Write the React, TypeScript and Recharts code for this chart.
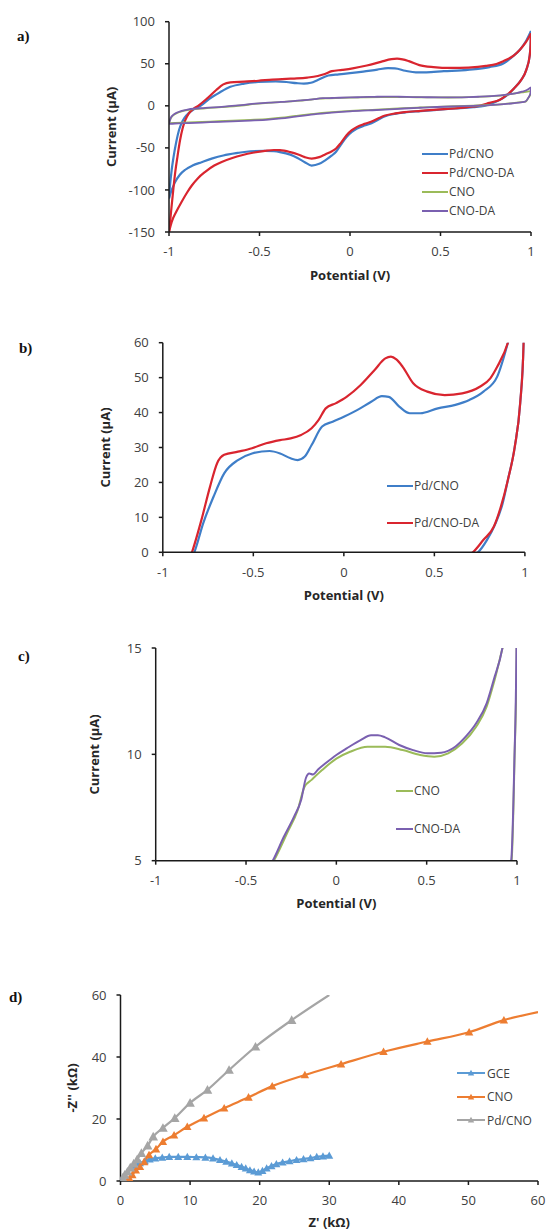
import React from 'react';
import { LineChart, ComposedChart, Line, Scatter, XAxis, YAxis, Legend } from 'recharts';

const FONT = '"Open Sans", "Liberation Sans", sans-serif';
const SERIF = '"Liberation Serif", "Times New Roman", serif';

type Pt = [number, number];

// ---------- CV data (potential V, current µA), each branch listed with increasing potential ----------
const pdCnoAnodic: Pt[] = [[-1,-110],[-0.995,-96],[-0.985,-76],[-0.975,-61],[-0.96,-43],[-0.945,-29],[-0.925,-18],[-0.9,-10.5],[-0.875,-6],[-0.85,-2.5],[-0.826,0],[-0.777,8.3],[-0.72,15.9],[-0.661,22.6],[-0.585,26.4],[-0.507,28.3],[-0.41,29],[-0.352,28.3],[-0.294,26.9],[-0.255,26.4],[-0.216,27.4],[-0.178,30.7],[-0.12,36],[-0.062,37.4],[0,38.8],[0.073,40.7],[0.151,43.1],[0.21,44.7],[0.248,44.5],[0.306,41.7],[0.364,39.8],[0.422,39.8],[0.519,41.2],[0.616,42.2],[0.693,43.6],[0.771,46],[0.847,50.3],[0.906,60],[0.94,67],[0.97,76],[1,89]];
const pdCnoCathodic: Pt[] = [[-1,-110],[-0.99,-103],[-0.967,-91],[-0.94,-82],[-0.91,-76],[-0.87,-71],[-0.82,-67],[-0.76,-62.5],[-0.7,-59],[-0.62,-56],[-0.55,-54],[-0.47,-53.5],[-0.42,-54],[-0.387,-55],[-0.33,-58],[-0.29,-62],[-0.25,-67],[-0.212,-71],[-0.17,-69],[-0.135,-64.5],[-0.1,-59],[-0.077,-54.5],[-0.05,-46],[-0.019,-37],[0.01,-31],[0.039,-27],[0.08,-23.5],[0.116,-21],[0.16,-16],[0.194,-12.5],[0.25,-9.5],[0.3,-8],[0.39,-6.3],[0.48,-4.8],[0.58,-3.2],[0.68,-1.5],[0.741,0],[0.79,3.5],[0.838,8.3],[0.877,14],[0.906,20.7],[0.944,30.2],[0.974,42.7],[0.993,60],[0.998,75],[1,89]];
const pdCnoDaAnodic: Pt[] = [[-1,-150],[-0.994,-138],[-0.985,-118],[-0.975,-97],[-0.965,-78],[-0.953,-60],[-0.939,-41],[-0.925,-27],[-0.91,-17],[-0.89,-9],[-0.865,-3.5],[-0.839,0],[-0.787,9.2],[-0.739,18.8],[-0.7,25.5],[-0.661,27.9],[-0.585,28.8],[-0.507,29.8],[-0.429,31.2],[-0.352,32.1],[-0.294,32.6],[-0.236,33.6],[-0.178,35.5],[-0.139,37.9],[-0.1,41.2],[-0.043,42.7],[0.015,44.5],[0.093,47.9],[0.17,52.2],[0.229,55.5],[0.26,56],[0.29,55.2],[0.325,53.1],[0.383,48.4],[0.461,46],[0.557,45],[0.654,45.5],[0.751,47.4],[0.809,49.8],[0.847,53.1],[0.906,60],[0.94,67],[0.97,75],[1,86]];
const pdCnoDaCathodic: Pt[] = [[-1,-150],[-0.985,-138],[-0.96,-126],[-0.93,-114],[-0.9,-103],[-0.875,-95],[-0.84,-86],[-0.8,-78.5],[-0.75,-71],[-0.709,-66.7],[-0.65,-62],[-0.598,-58.7],[-0.53,-55.5],[-0.47,-53.5],[-0.42,-52.5],[-0.387,-52.7],[-0.33,-55],[-0.29,-57.5],[-0.25,-61],[-0.212,-62.7],[-0.17,-61],[-0.135,-57.5],[-0.1,-54],[-0.077,-50.7],[-0.05,-44],[-0.019,-35],[0.01,-29],[0.039,-25],[0.08,-21.5],[0.116,-19],[0.16,-14.5],[0.194,-11.5],[0.25,-9],[0.3,-7.5],[0.39,-6],[0.48,-4.5],[0.58,-3],[0.65,-1.5],[0.712,0],[0.77,3.5],[0.828,7.3],[0.867,13],[0.906,20.7],[0.944,30.2],[0.974,42.7],[0.993,60],[0.998,73],[1,86]];
const cnoAnodic: Pt[] = [[-1,-20.5],[-0.99,-15],[-0.975,-11],[-0.955,-8.5],[-0.93,-6.5],[-0.89,-4.8],[-0.8,-3],[-0.71,-1.6],[-0.6,0.4],[-0.525,2.2],[-0.45,3.6],[-0.39,4.4],[-0.346,5],[-0.273,6.29],[-0.214,7.38],[-0.176,8.48],[-0.137,8.8],[-0.079,9.26],[0,9.8],[0.076,10.12],[0.173,10.36],[0.27,10.36],[0.367,10.2],[0.464,9.97],[0.542,9.89],[0.619,10.05],[0.697,10.52],[0.774,11.3],[0.832,12.24],[0.871,13.34],[0.92,15],[0.95,16],[0.98,16.8],[1,17.5]];
const cnoCathodic: Pt[] = [[-1,-20.5],[-0.967,-20.2],[-0.89,-19.7],[-0.773,-18.7],[-0.65,-17.7],[-0.55,-16.7],[-0.45,-15.5],[-0.38,-14.2],[-0.3,-12],[-0.2,-9.5],[-0.1,-7.6],[0,-6.1],[0.1,-5],[0.194,-4],[0.3,-2.8],[0.387,-2],[0.48,-1.2],[0.58,-0.5],[0.68,0.2],[0.774,1],[0.85,2.1],[0.909,3.4],[0.945,4.3],[0.97,5],[0.987,10],[0.998,14.5],[1,17.5]];
const cnoDaAnodic: Pt[] = [[-1,-21.5],[-0.99,-14],[-0.975,-10.5],[-0.955,-8],[-0.93,-6],[-0.893,-4.3],[-0.8,-2.5],[-0.709,-1.2],[-0.6,0.8],[-0.525,2.5],[-0.45,3.8],[-0.39,4.5],[-0.35,5.03],[-0.292,6.1],[-0.234,7.07],[-0.195,7.85],[-0.168,8.9],[-0.15,9.1],[-0.13,9.05],[-0.1,9.3],[-0.06,9.58],[0,9.97],[0.057,10.28],[0.134,10.67],[0.192,10.9],[0.23,10.9],[0.27,10.8],[0.348,10.44],[0.425,10.2],[0.503,10.05],[0.58,10.08],[0.658,10.36],[0.716,10.83],[0.774,11.46],[0.832,12.4],[0.871,13.5],[0.92,15.03],[0.95,16.8],[0.98,19],[1,22]];
const cnoDaCathodic: Pt[] = [[-1,-21.5],[-0.967,-21],[-0.89,-20.5],[-0.773,-19.5],[-0.65,-18.5],[-0.55,-17.5],[-0.45,-16.3],[-0.38,-15],[-0.3,-12.8],[-0.2,-10.2],[-0.1,-8.2],[0,-6.6],[0.1,-5.5],[0.194,-4.5],[0.3,-3.2],[0.387,-2.3],[0.48,-1.4],[0.58,-0.7],[0.68,0],[0.774,0.8],[0.85,2],[0.909,3.3],[0.945,4.2],[0.968,5],[0.985,9.5],[0.997,15],[1,22]];

// ---------- EIS data (Z' kΩ, -Z'' kΩ) ----------
const gcePoints: Pt[] = [[0,0],[0.3,0.8],[0.6,1.8],[1,3],[1.5,4.2],[2,5],[2.8,5.8],[3.5,6.4],[4.2,7],[5,7.3],[6,7.6],[7,7.8],[8.3,7.8],[9.6,7.8],[10.9,7.7],[12.2,7.6],[13.3,7.3],[14.3,6.8],[15.2,6.3],[16,5.7],[16.7,5.2],[17.4,4.6],[18,4.1],[18.6,3.5],[19.2,3.1],[19.8,2.8],[20.4,3.3],[21,4.1],[21.7,4.8],[22.4,5.5],[23.3,6],[24.3,6.4],[25.3,6.8],[26.3,7.1],[27.3,7.4],[28.2,7.8],[29.1,8],[30,8.2]];
const cnoPoints: Pt[] = [[1,0],[1.3,0.8],[1.7,2],[2.2,3.5],[2.8,4.6],[3.4,6.2],[4.1,8.4],[5.1,10.3],[6.1,12.7],[7.7,14.8],[9.6,17.5],[12,20.3],[14.9,23.5],[18.4,27],[21.8,30.6],[26.5,34.2],[31.7,37.7],[37.8,41.7],[44.1,45],[50.1,48],[55.1,51.9]];
const cnoFitEnd: Pt = [60, 54.5];
const pdCnoPoints: Pt[] = [[0,0],[0.3,1],[0.6,2],[1,3],[1.4,4.3],[1.9,5.6],[2.4,7],[3,9],[3.9,11.4],[4.7,14.3],[6.1,17.1],[7.8,20.3],[10,25.2],[12.5,29.4],[15.6,35.8],[19.4,43.3],[24.6,51.9]];
const pdCnoFitEnd: Pt = [30, 60];

// ---------- ticks & labels ----------
const cvXTicks = [-1, -0.5, 0, 0.5, 1];
const aYTicks = [-150, -100, -50, 0, 50, 100];
const bYTicks = [0, 10, 20, 30, 40, 50, 60];
const cYTicks = [5, 10, 15];
const dXTicks = [0, 10, 20, 30, 40, 50, 60];
const dYTicks = [0, 20, 40, 60];
const aLegend = ['Pd/CNO', 'Pd/CNO-DA', 'CNO', 'CNO-DA'];
const bLegend = ['Pd/CNO', 'Pd/CNO-DA'];
const cLegend = ['CNO', 'CNO-DA'];
const dLegend = ['GCE', 'CNO', 'Pd/CNO'];

const C = {
  blue: '#3f7ec8', red: '#d9252f', green: '#9bbb59', purple: '#7a60b0',
  gce: '#5b9bd5', cno: '#ed7d31', pd: '#a5a5a5',
};

const cv = (a: Pt[]) => a.map(([v, i]) => ({ v, i }));
const eis = (a: Pt[]) => a.map(([x, y]) => ({ x, y }));

const axisStroke = { stroke: '#1a1a1a', strokeWidth: 1.5 };
const tickStyle = { fill: '#404040', fontSize: 13, fontFamily: FONT };
const titleProps = { fill: '#262626', fontSize: 13, fontWeight: 700, fontFamily: FONT };

const tri = (cx: number, cy: number, s: number) =>
  `M${cx},${cy - s}L${cx + s},${cy + s * 0.8}L${cx - s},${cy + s * 0.8}Z`;

function LegendRows(props: any) {
  const { payload, order, rowH, lineW, gap, markers } = props;
  const items = order
    .map((n: string) => (payload || []).find((p: any) => p.value === n))
    .filter(Boolean);
  return (
    <div style={{ fontFamily: FONT, fontSize: 12, color: '#404040' }}>
      {items.map((it: any) => (
        <div key={it.value} style={{ height: rowH, display: 'flex', alignItems: 'center', whiteSpace: 'nowrap' }}>
          <svg width={lineW} height={10} style={{ display: 'block', marginRight: gap }}>
            <line x1={0} y1={5} x2={lineW} y2={5} stroke={it.color} strokeWidth={2} />
            {markers && <path d={tri(lineW / 2, 5, 3.2)} fill={it.color} />}
          </svg>
          <span>{it.value}</span>
        </div>
      ))}
    </div>
  );
}

const cvX = (h: number, offset: number) => (
  <XAxis type="number" dataKey="v" domain={[-1, 1]} ticks={cvXTicks} allowDataOverflow interval={0}
    axisLine={axisStroke} tickLine={axisStroke} tickSize={4} tickMargin={11} tick={tickStyle} height={h}
    label={{ value: 'Potential (V)', position: 'insideBottom', offset, ...titleProps }} />
);

const cvY = (domain: [number, number], ticks: number[], width: number, offset: number) => (
  <YAxis type="number" domain={domain} ticks={ticks} allowDataOverflow interval={0} width={width}
    axisLine={axisStroke} tickLine={axisStroke} tickSize={4} tickMargin={10} tick={tickStyle}
    label={{ value: 'Current (µA)', angle: -90, position: 'insideLeft', offset, textAnchor: 'middle', style: { textAnchor: 'middle' }, ...titleProps }} />
);

const cvLine = (data: Pt[], color: string, name: string | undefined, width: number) => (
  <Line data={cv(data)} dataKey="i" name={name} type="monotone" stroke={color} strokeWidth={width}
    dot={false} activeDot={false} isAnimationActive={false} legendType={name ? 'line' : 'none'} />
);

const PanelLetter = ({ text, left, top }: { text: string; left: number; top: number }) => (
  <div style={{ position: 'absolute', left, top, fontFamily: SERIF, fontWeight: 700, fontSize: 15, lineHeight: '15px', color: '#111' }}>{text}</div>
);

export default function App() {
  return (
    <div style={{ position: 'absolute', left: 0, top: 0, width: 549, height: 1232, background: '#fff', overflow: 'hidden' }}>
      <PanelLetter text="a)" left={17} top={29} />
      <PanelLetter text="b)" left={19} top={341} />
      <PanelLetter text="c)" left={18} top={649} />
      <PanelLetter text="d)" left={9} top={990} />

      {/* a */}
      <div style={{ position: 'absolute', left: 0, top: 0 }}>
        <LineChart width={549} height={292} margin={{ top: 21.7, right: 18, bottom: 0, left: 0 }}>
          {cvX(60, 12.4)}
          {cvY([-150, 100], aYTicks, 169, 111)}
          {cvLine(pdCnoAnodic, C.blue, 'Pd/CNO', 2.2)}
          {cvLine(pdCnoCathodic, C.blue, undefined, 2.2)}
          {cvLine(pdCnoDaAnodic, C.red, 'Pd/CNO-DA', 2.2)}
          {cvLine(pdCnoDaCathodic, C.red, undefined, 2.2)}
          {cvLine(cnoAnodic, C.green, 'CNO', 1.8)}
          {cvLine(cnoCathodic, C.green, undefined, 1.8)}
          {cvLine(cnoDaAnodic, C.purple, 'CNO-DA', 1.8)}
          {cvLine(cnoDaCathodic, C.purple, undefined, 1.8)}
          <Legend layout="vertical" align="center" verticalAlign="middle"
            wrapperStyle={{ left: 422, top: 144.5, width: 110 }}
            content={(p: any) => <LegendRows {...p} order={aLegend} rowH={18.9} lineW={26} gap={1} />} />
        </LineChart>
      </div>

      {/* b */}
      <div style={{ position: 'absolute', left: 0, top: 300 }}>
        <LineChart width={549} height={312.3} margin={{ top: 42.7, right: 24.1, bottom: 0, left: 0 }}>
          {cvX(60, 12.7)}
          {cvY([0, 60], bYTicks, 162.8, 105)}
          {cvLine(pdCnoAnodic, C.blue, 'Pd/CNO', 2.2)}
          {cvLine(pdCnoCathodic, C.blue, undefined, 2.2)}
          {cvLine(pdCnoDaAnodic, C.red, 'Pd/CNO-DA', 2.2)}
          {cvLine(pdCnoDaCathodic, C.red, undefined, 2.2)}
          <Legend layout="vertical" align="center" verticalAlign="middle"
            wrapperStyle={{ left: 387, top: 167, width: 110 }}
            content={(p: any) => <LegendRows {...p} order={bLegend} rowH={37.3} lineW={26} gap={1} />} />
        </LineChart>
      </div>

      {/* c */}
      <div style={{ position: 'absolute', left: 0, top: 612 }}>
        <LineChart width={549} height={308.7} margin={{ top: 36, right: 32, bottom: 0, left: 0 }}>
          {cvX(60, 12.4)}
          {cvY([5, 15], cYTicks, 155.7, 94.5)}
          {cvLine(cnoAnodic, C.green, 'CNO', 2)}
          {cvLine(cnoCathodic, C.green, undefined, 2)}
          {cvLine(cnoDaAnodic, C.purple, 'CNO-DA', 2)}
          {cvLine(cnoDaCathodic, C.purple, undefined, 2)}
          <Legend layout="vertical" align="center" verticalAlign="middle"
            wrapperStyle={{ left: 396, top: 159.5, width: 100 }}
            content={(p: any) => <LegendRows {...p} order={cLegend} rowH={38.3} lineW={17} gap={1} />} />
        </LineChart>
      </div>

      {/* d */}
      <div style={{ position: 'absolute', left: 0, top: 921 }}>
        <ComposedChart width={549} height={310} margin={{ top: 74, right: 11, bottom: 0, left: 0 }}>
          <XAxis type="number" dataKey="x" domain={[0, 60]} ticks={dXTicks} allowDataOverflow interval={0}
            axisLine={axisStroke} tickLine={axisStroke} tickSize={4} tickMargin={11} tick={tickStyle} height={50}
            label={{ value: "Z' (kΩ)", position: 'insideBottom', offset: 4.4, ...titleProps }} />
          <YAxis type="number" dataKey="y" domain={[0, 60]} ticks={dYTicks} allowDataOverflow interval={0} width={120.5}
            axisLine={axisStroke} tickLine={axisStroke} tickSize={4} tickMargin={10} tick={tickStyle}
            label={{ value: "-Z'' (kΩ)", angle: -90, position: 'insideLeft', offset: 72, textAnchor: 'middle', style: { textAnchor: 'middle' }, ...titleProps }} />
          <Line data={eis(gcePoints)} dataKey="y" name="GCE" type="monotone" stroke={C.gce} strokeWidth={2.2}
            dot={false} activeDot={false} isAnimationActive={false} />
          <Line data={eis([...cnoPoints, cnoFitEnd])} dataKey="y" name="CNO" type="monotone" stroke={C.cno} strokeWidth={2.2}
            dot={false} activeDot={false} isAnimationActive={false} />
          <Line data={eis([...pdCnoPoints, pdCnoFitEnd])} dataKey="y" name="Pd/CNO" type="monotone" stroke={C.pd} strokeWidth={2.2}
            dot={false} activeDot={false} isAnimationActive={false} />
          <Scatter data={eis(gcePoints)} legendType="none" isAnimationActive={false}
            shape={(p: any) => <path d={tri(p.cx, p.cy, 4)} fill={C.gce} />} />
          <Scatter data={eis(cnoPoints)} legendType="none" isAnimationActive={false}
            shape={(p: any) => <path d={tri(p.cx, p.cy, 4.2)} fill={C.cno} />} />
          <Scatter data={eis(pdCnoPoints)} legendType="none" isAnimationActive={false}
            shape={(p: any) => <path d={tri(p.cx, p.cy, 4.8)} fill={C.pd} />} />
          <Legend layout="vertical" align="center" verticalAlign="middle"
            wrapperStyle={{ left: 457, top: 140.3, width: 90 }}
            content={(p: any) => <LegendRows {...p} order={dLegend} rowH={23.5} lineW={28} gap={2} markers />} />
        </ComposedChart>
      </div>
    </div>
  );
}
